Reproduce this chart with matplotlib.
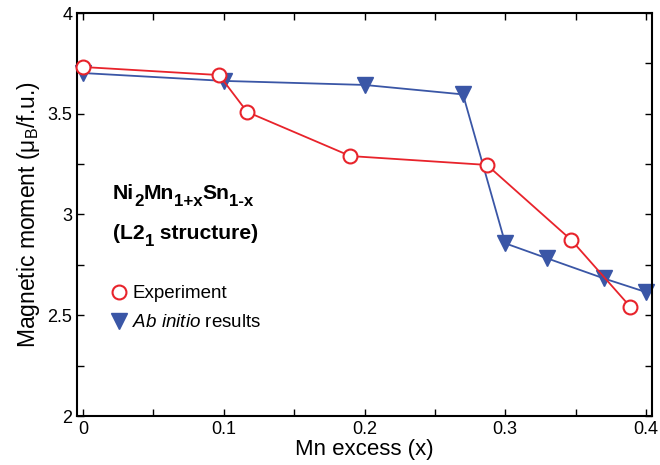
import matplotlib
matplotlib.use("Agg")
import matplotlib.pyplot as plt
from matplotlib.ticker import MultipleLocator

plt.rcParams['font.family'] = ['Liberation Sans', 'DejaVu Sans']
plt.rcParams['mathtext.fontset'] = 'custom'
plt.rcParams['mathtext.rm'] = 'Liberation Sans'
plt.rcParams['mathtext.it'] = 'Liberation Sans:italic'
plt.rcParams['mathtext.bf'] = 'Liberation Sans:bold'
plt.rcParams['mathtext.sf'] = 'Liberation Sans'

exp_x = [0.0, 0.0967, 0.1166, 0.190, 0.287, 0.347, 0.389]
exp_y = [3.732, 3.692, 3.509, 3.290, 3.246, 2.873, 2.541]

abi_x = [0.0, 0.1, 0.2, 0.270, 0.300, 0.330, 0.370, 0.400]
abi_y = [3.702, 3.663, 3.643, 3.596, 2.857, 2.782, 2.683, 2.615]

title_line1 = [('Ni', False), ('2', True), ('Mn', False), ('1+x', True), ('Sn', False), ('1-x', True)]
title_line2 = [('(L2', False), ('1', True), (' structure)', False)]

red = '#e8232b'
blue = '#3a56a6'

W, H = 660, 465
fig = plt.figure(figsize=(6.6, 4.65), dpi=100)
ax = fig.add_axes([77/W, 1-416/H, (652-77)/W, (416-13)/H])

ax.plot(abi_x, abi_y, '-', color=blue, lw=1.3, marker='v', ms=11.5,
        mfc=blue, mec=blue, zorder=2, clip_on=False)
ax.plot(exp_x, exp_y, '-', color=red, lw=1.3, marker='o', ms=10,
        mfc='white', mec=red, mew=1.5, zorder=3, clip_on=False)

ax.set_xlim(-0.0043, 0.4043)
ax.set_ylim(2, 4)
ax.xaxis.set_minor_locator(MultipleLocator(0.05))
ax.yaxis.set_minor_locator(MultipleLocator(0.25))
ax.set_xticks([0, 0.1, 0.2, 0.3, 0.4])
ax.set_xticklabels(['0', '0.1', '0.2', '0.3', '0.4'])
ax.set_yticks([2, 2.5, 3, 3.5, 4])
ax.set_yticklabels(['2', '2.5', '3', '3.5', '4'])

ax.tick_params(which='both', direction='in', top=True, right=True, labelsize=13, width=1)
ax.tick_params(which='major', length=5)
ax.tick_params(which='minor', length=5)
for s in ax.spines.values():
    s.set_linewidth(1.5)

ax.set_xlabel('Mn excess (x)', fontsize=16, labelpad=1)
ax.set_ylabel(r'Magnetic moment ($\mathregular{\mu_B}$/f.u.)', fontsize=16.5, labelpad=4)

renderer = fig.canvas.get_renderer()


def rich(pieces, x0, ybase, size, sub_scale=0.8, sub_drop=7):
    x = x0
    for s, sub in pieces:
        fs = size * sub_scale if sub else size
        yb = ybase + (sub_drop if sub else 0)
        t = fig.text(x / W, 1 - yb / H, s, fontsize=fs, fontweight='bold',
                     ha='left', va='baseline')
        bb = t.get_window_extent(renderer)
        x += bb.width


rich(title_line1, 113, 199, 15.2)
rich(title_line2, 113, 239, 15.2)

# legend
fig.lines.append(plt.Line2D([119 / W], [1 - 292 / H], transform=fig.transFigure, marker='o', ms=10,
                            mfc='white', mec=red, mew=1.5, ls='none'))
fig.text(132 / W, 1 - 298 / H, 'Experiment', fontsize=13.5, va='baseline')
fig.lines.append(plt.Line2D([119 / W], [1 - 321 / H], transform=fig.transFigure, marker='v', ms=11.5,
                            mfc=blue, mec=blue, ls='none'))
fig.text(132 / W, 1 - 327 / H, r'$\mathit{Ab\ initio}$ results', fontsize=13.5, va='baseline')

fig.savefig('out.png', dpi=100)
